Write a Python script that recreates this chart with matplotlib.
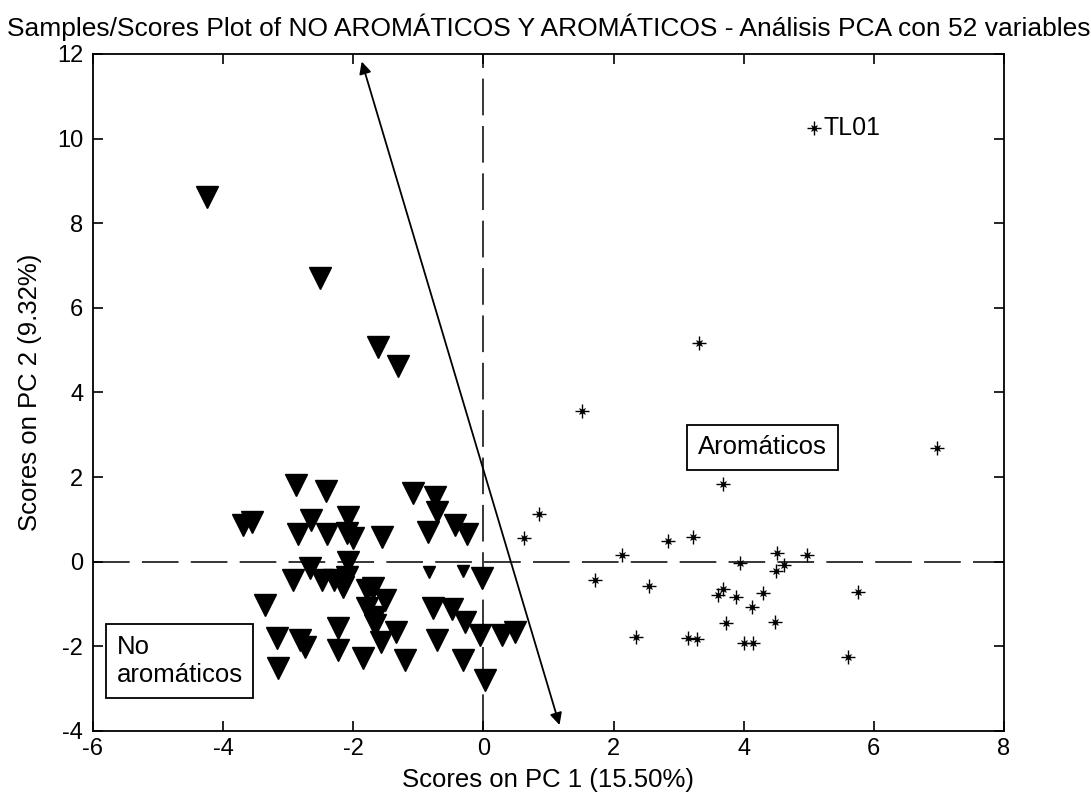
import matplotlib
matplotlib.use("Agg")
import matplotlib.pyplot as plt
import numpy as np

plt.rcParams['font.family'] = ['Liberation Sans', 'DejaVu Sans']
plt.rcParams['axes.unicode_minus'] = False

# No aromaticos (triangles)
no_x = [-4.25, -2.51, -1.62, -1.31,
        -2.88, -2.42, -1.08, -0.75, -0.71, -3.69, -3.55, -2.65, -2.08, -2.85,
        -2.40, -2.10, -2.00, -1.56, -0.85, -0.43, -0.25, -2.08, -0.02, -2.92,
        -2.66, -2.48, -2.15, -2.10, -1.79, -1.69, -1.51, -1.79, -3.35, -0.77,
        -0.48, -0.28, -1.66, -2.23, -1.35, -3.17, -2.82, -2.74, -1.58, -0.71,
        -0.05, 0.29, 0.49, -2.23, -1.85, -1.20, -0.31, -3.15, 0.03, -1.66, -2.30]
no_y = [8.62, 6.71, 5.07, 4.62,
        1.81, 1.67, 1.62, 1.52, 1.18, 0.87, 0.94, 0.98, 1.06, 0.65,
        0.65, 0.68, 0.56, 0.58, 0.70, 0.87, 0.65, -0.01, -0.39, -0.43,
        -0.15, -0.43, -0.59, -0.35, -0.67, -0.62, -0.91, -1.10, -1.03, -1.10,
        -1.12, -1.42, -1.50, -1.57, -1.65, -1.80, -1.85, -2.01, -1.89, -1.85,
        -1.73, -1.73, -1.65, -2.09, -2.28, -2.33, -2.33, -2.52, -2.80, -1.30, -0.43]
# two small triangles
no_small_x = [-0.83, -0.31]
no_small_y = [-0.24, -0.22]

# Aromaticos (stars)
ar_x = [3.32, 1.51, 6.97, 3.68, 0.86, 0.62, 2.83, 3.22, 2.13, 3.95, 4.52, 4.98,
        4.49, 4.62, 1.71, 2.55, 3.69, 3.60, 3.88, 4.29, 5.75, 4.13, 3.73, 4.48,
        2.34, 3.14, 3.29, 4.00, 4.15, 5.60, 5.08]
ar_y = [5.18, 3.56, 2.69, 1.83, 1.13, 0.56, 0.48, 0.59, 0.15, -0.02, 0.20, 0.15,
        -0.21, -0.08, -0.43, -0.57, -0.65, -0.79, -0.83, -0.75, -0.71, -1.07, -1.45, -1.42,
        -1.79, -1.80, -1.83, -1.92, -1.92, -2.25, 10.25]

arrow_start = (1.17, -3.86)
arrow_end = (-1.87, 11.82)

fig = plt.figure(figsize=(10.91, 7.98), dpi=100)
ax = fig.add_axes([0.0852, 0.0840, 0.8350, 0.8484])

ax.axhline(0, color='black', lw=1.1, ls=(0, (24, 8)), zorder=1)
ax.axvline(0, color='black', lw=1.1, ls=(0, (24, 7)), zorder=1)

ax.plot(no_x, no_y, 'v', color='black', ms=15.5, zorder=3)
ax.plot(no_small_x, no_small_y, 'v', color='black', ms=8, zorder=3)

ax.plot(ar_x, ar_y, '+', color='black', ms=10, mew=1.0, zorder=3)
ax.plot(ar_x, ar_y, 'x', color='black', ms=5, mew=0.8, zorder=3)
ax.plot(ar_x, ar_y, 'o', color='black', ms=2.5, zorder=3)

ax.annotate('', xy=arrow_end, xytext=arrow_start,
            arrowprops=dict(arrowstyle='<|-|>', color='black', lw=1.3,
                            mutation_scale=18, shrinkA=0, shrinkB=0), zorder=4)

ax.text(5.22, 10.25, 'TL01', fontsize=18, va='center', ha='left')

ax.text(4.29, 2.70, 'Aromáticos', fontsize=18.5, ha='center', va='center',
        bbox=dict(boxstyle='square,pad=0.42', fc='white', ec='black', lw=1.3), zorder=5)
ax.text(-5.64, -2.35, 'No\naromáticos', fontsize=18.5, ha='left', va='center',
        linespacing=1.2,
        bbox=dict(boxstyle='square,pad=0.42', fc='white', ec='black', lw=1.3), zorder=5)

ax.set_xlim(-6, 8)
ax.set_ylim(-4, 12)
ax.set_xticks(np.arange(-6, 9, 2))
ax.set_yticks(np.arange(-4, 13, 2))
ax.tick_params(direction='in', top=True, right=True, labelsize=17, length=7, width=1.2)
ax.tick_params(axis='x', pad=5)
ax.tick_params(axis='y', pad=7)
for s in ax.spines.values():
    s.set_linewidth(1.3)

ax.set_xlabel('Scores on PC 1 (15.50%)', fontsize=18.5, labelpad=6)
ax.set_ylabel('Scores on PC 2 (9.32%)', fontsize=18.5, labelpad=11)
ax.set_title('Samples/Scores Plot of NO AROMÁTICOS Y AROMÁTICOS - Análisis PCA con 52 variables',
             fontsize=19, pad=13)

fig.savefig('out.png', dpi=100)
